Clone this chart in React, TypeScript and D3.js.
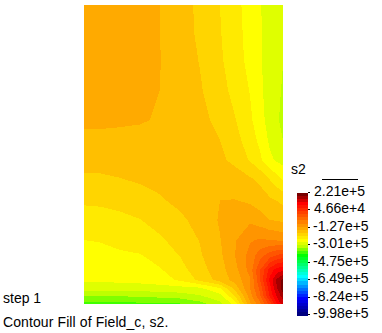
import * as d3 from "d3";
import { useRef, useEffect } from "react";

// Mesh lines of the field grid, in page pixels of the plot
const gridX = [84, 100, 120, 140, 160, 180, 200, 220, 235, 250, 260, 270, 277, 283];
const gridY = [5, 30, 60, 90, 120, 140, 160, 180, 200, 220, 240, 255, 270, 280, 288, 296, 304];

// s2, given as position on the legend (0 = top band, 40 = bottom)
const s2Rows = [
  [11.3, 11.4, 11.6, 11.8, 12.0, 12.6, 13.2, 14.0, 14.7, 15.4, 15.95, 16.4, 16.7, 16.95],
  [11.3, 11.4, 11.6, 11.8, 12.0, 12.55, 13.2, 13.95, 14.65, 15.35, 15.9, 16.4, 16.7, 16.97],
  [11.3, 11.4, 11.6, 11.8, 11.98, 12.5, 13.05, 13.85, 14.55, 15.3, 15.9, 16.4, 16.75, 16.98],
  [11.3, 11.4, 11.6, 11.8, 12.0, 12.45, 12.9, 13.65, 14.3, 15.05, 15.85, 16.35, 16.8, 17.1],
  [11.75, 11.75, 11.8, 11.9, 12.1, 12.5, 12.7, 13.3, 13.95, 14.8, 15.65, 16.4, 16.9, 17.2],
  [12.3, 12.3, 12.35, 12.35, 12.45, 12.55, 12.7, 13.0, 13.65, 14.5, 15.25, 16.2, 16.7, 17.0],
  [12.6, 12.6, 12.6, 12.6, 12.6, 12.65, 12.75, 12.85, 13.2, 14.1, 14.8, 15.8, 16.15, 16.4],
  [13.2, 13.2, 13.05, 12.9, 12.75, 12.6, 12.5, 12.45, 12.6, 12.8, 13.2, 14.0, 14.55, 15.0],
  [13.8, 13.75, 13.6, 13.4, 13.1, 12.75, 12.35, 12.0, 11.98, 12.2, 12.5, 12.85, 13.05, 13.3],
  [14.55, 14.5, 14.3, 14.03, 13.6, 13.2, 12.65, 11.9, 11.3, 11.2, 11.55, 12.0, 12.1, 12.2],
  [15.0, 14.95, 14.7, 14.45, 14.15, 13.6, 12.95, 12.05, 11.1, 10.1, 9.9, 10.0, 10.1, 10.3],
  [15.3, 15.25, 15.15, 15.05, 14.55, 13.95, 13.1, 12.2, 11.0, 9.65, 8.45, 7.5, 7.0, 6.7],
  [15.6, 15.55, 15.45, 15.35, 15.1, 14.4, 13.4, 12.4, 11.35, 9.6, 7.0, 4.5, 3.5, 3.2],
  [15.85, 15.85, 15.8, 15.7, 15.4, 14.85, 13.75, 12.6, 11.65, 10.15, 7.0, 3.7, 1.75, 0.7],
  [16.4, 16.4, 16.4, 16.4, 16.4, 16.3, 16.1, 15.0, 12.6, 10.0, 7.7, 4.3, 2.0, 0.3],
  [18.0, 18.0, 17.95, 17.85, 17.7, 17.5, 17.1, 16.4, 14.0, 10.5, 8.2, 4.8, 2.8, 1.5],
  [19.3, 19.3, 19.3, 19.25, 19.2, 19.1, 18.4, 17.3, 15.6, 11.2, 9.3, 6.5, 4.0, 2.5],
];

const legendLabels = ["2.21e+5", "4.66e+4", "-1.27e+5", "-3.01e+5", "-4.75e+5", "-6.49e+5", "-8.24e+5", "-9.98e+5"];

// Colour of each legend band, dark red at the top to dark blue at the bottom
const stopIndex = [0, 3, 15, 16, 17, 18, 20, 27, 34, 39];
const stopColor = ["#780000", "#ff0000", "#ffff00", "#dfff00", "#bfff00", "#80ff00", "#00ff00", "#00ffff", "#0000ff", "#000080"];
const bandCount = 40;

const FONT = "'Liberation Sans', Arial, sans-serif";

export default function App() {
  const svgRef = useRef<SVGSVGElement>(null);

  useEffect(() => {
    const svg = d3.select(svgRef.current);
    svg.selectAll("*").remove();

    const bands = d3.range(bandCount);
    const bandColor = d3.scaleLinear<string>().domain(stopIndex).range(stopColor);

    // Contour cells sit at i + 0.5 in d3.contours space
    const xPos = d3.scaleLinear().domain(gridX.map((_, i) => i + 0.5)).range(gridX).clamp(true);
    const yPos = d3.scaleLinear().domain(gridY.map((_, i) => i + 0.5)).range(gridY).clamp(true);
    const path = d3.geoPath(
      d3.geoTransform({
        point(x, y) {
          this.stream.point(xPos(x), yPos(y));
        },
      })
    );

    const contours = d3.contours().size([gridX.length, gridY.length]).thresholds(bands)(s2Rows.flat());

    svg
      .append("g")
      .attr("shape-rendering", "crispEdges")
      .selectAll("path")
      .data(contours)
      .join("path")
      .attr("d", (d) => path(d))
      .attr("fill", (d) => bandColor(d.value));

    // Legend bar
    const legendY = d3.scaleBand<number>().domain(bands).range([193, 315]);
    svg
      .append("g")
      .attr("shape-rendering", "crispEdges")
      .selectAll("rect")
      .data(bands)
      .join("rect")
      .attr("x", 297)
      .attr("width", 11)
      .attr("y", (d) => legendY(d))
      .attr("height", legendY.bandwidth() + 0.5)
      .attr("fill", (d) => bandColor(d));

    const labelY = d3.scalePoint<string>().domain(legendLabels).range([196, 318]);
    const labels = svg.append("g").attr("font-family", FONT).attr("font-size", 14).attr("fill", "#000");

    labels
      .selectAll("text")
      .data(legendLabels)
      .join("text")
      .attr("x", (d) => (d.startsWith("-") ? 313 : 314))
      .attr("y", (d) => labelY(d))
      .text((d) => d);

    svg
      .append("g")
      .attr("shape-rendering", "crispEdges")
      .selectAll("rect")
      .data(legendLabels)
      .join("rect")
      .attr("x", 308)
      .attr("y", (d) => labelY(d) - 4)
      .attr("width", 2)
      .attr("height", 1)
      .attr("fill", "#000");

    svg
      .append("line")
      .attr("x1", 322)
      .attr("x2", 358)
      .attr("y1", 179.5)
      .attr("y2", 179.5)
      .attr("stroke", "#000")
      .attr("shape-rendering", "crispEdges");

    labels.append("text").attr("x", 291).attr("y", 174).text("s2");
    labels.append("text").attr("x", 3).attr("y", 303).text("step 1");
    labels.append("text").attr("x", 3).attr("y", 327).attr("letter-spacing", 0.1).text("Contour Fill of Field_c, s2.");
  }, []);

  return <svg ref={svgRef} width={382} height={333} style={{ position: "absolute", left: 0, top: 0, background: "#fff" }}></svg>;
}
